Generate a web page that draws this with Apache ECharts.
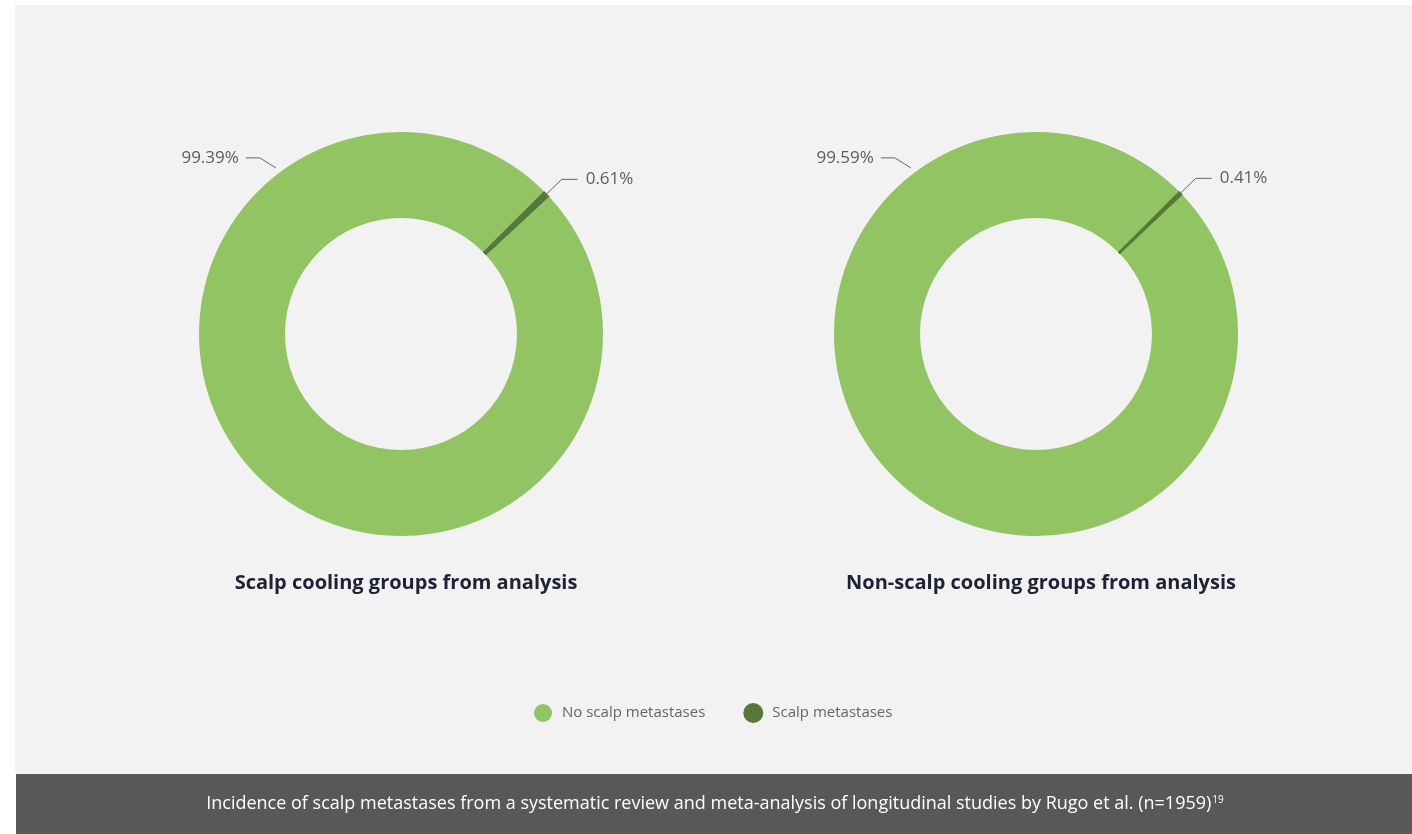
<!DOCTYPE html>
<html>
<head>
<meta charset="utf-8">
<script src="https://cdn.jsdelivr.net/npm/echarts@6/dist/echarts.min.js"></script>
<style>
  html, body { margin: 0; padding: 0; background: #ffffff; }
  #chart { width: 1412px; height: 834px; }
</style>
</head>
<body>
<div id="chart"></div>
<script>
// Outcome categories shown in both donuts
const categories = ['No scalp metastases', 'Scalp metastases'];
// Percentages per group (same order as categories)
const scalpCoolingValues = [99.39, 0.61];
const nonScalpCoolingValues = [99.59, 0.41];
// Group titles and caption
const groupTitles = ['Scalp cooling groups from analysis', 'Non-scalp cooling groups from analysis'];
const captionText = 'Incidence of scalp metastases from a systematic review and meta-analysis of longitudinal studies by Rugo et al. (n=1959)';
const captionRef = '19';

const colors = { 'No scalp metastases': '#93c463', 'Scalp metastases': '#56783a' };
const FONT = '"Open Sans", Lato, sans-serif';

const RING = [116, 202];
const centers = [[401, 334], [1036, 334]];
// Where the large-slice callout leaves the ring (degrees from 12 o'clock, clockwise)
const bigLabelAngle = -37;

function pieSeries(values, center, name) {
  // small slice first so it starts right at startAngle
  const data = [
    { name: categories[1], value: values[1],
      itemStyle: { color: colors[categories[1]], borderColor: colors[categories[1]], borderWidth: 1 } },
    { name: categories[0], value: values[0], itemStyle: { color: colors[categories[0]] } }
  ];
  return {
    type: 'pie',
    name: name,
    center: center,
    radius: RING,
    startAngle: 45,
    clockwise: true,
    avoidLabelOverlap: false,
    silent: true,
    data: data,
    label: {
      show: true,
      position: 'outside',
      formatter: '{c}%',
      fontFamily: FONT,
      fontSize: 17,
      color: '#5d5d5d',
      distanceToLabelLine: 8
    },
    labelLine: {
      show: true,
      length: 21,
      length2: 16,
      lineStyle: { color: '#666666', width: 1 }
    },
    labelLayout: function (p) {
      if (p.dataIndex !== 1) return {};
      const a = bigLabelAngle * Math.PI / 180;
      const r = RING[1] + 6;
      const x0 = center[0] + r * Math.sin(a);
      const y0 = center[1] - r * Math.cos(a);
      const x1 = x0 - 16, y1 = y0 - 10;
      const x2 = x1 - 14;
      return {
        x: x2 - 7,
        y: y1,
        align: 'right',
        verticalAlign: 'middle',
        labelLinePoints: [[x0, y0], [x1, y1], [x2, y1]]
      };
    }
  };
}

const chart = echarts.init(document.getElementById('chart'), null, { renderer: 'canvas' });

chart.setOption({
  animation: false,
  graphic: [
    { type: 'rect', z: -10, shape: { x: 15, y: 5, width: 1397, height: 769 }, style: { fill: '#f2f2f2' } },
    { type: 'rect', z: -10, shape: { x: 16, y: 774, width: 1396, height: 60 }, style: { fill: '#585856' } }
  ],
  title: [
    {
      text: groupTitles[0], left: centers[0][0], top: 568, textAlign: 'center',
      textStyle: { fontFamily: FONT, fontSize: 20, fontWeight: 'bold', color: '#1f2235' }
    },
    {
      text: groupTitles[1], left: centers[1][0], top: 568, textAlign: 'center',
      textStyle: { fontFamily: FONT, fontSize: 20, fontWeight: 'bold', color: '#1f2235' }
    },
    {
      text: captionText + '{sup|' + captionRef + '}', left: 710, top: 790, textAlign: 'center',
      textStyle: {
        fontFamily: FONT, fontSize: 18, fontWeight: 'normal', color: '#ffffff',
        rich: { sup: { fontFamily: FONT, fontSize: 10, color: '#ffffff', verticalAlign: 'top', padding: [0, 0, 8, 1] } }
      }
    }
  ],
  legend: {
    data: categories,
    left: 534,
    top: 703,
    padding: 0,
    icon: 'circle',
    itemWidth: 18,
    itemHeight: 18,
    itemGap: 38,
    selectedMode: false,
    textStyle: { fontFamily: FONT, fontSize: 15, color: '#666666', padding: [0, 0, 0, 5] }
  },
  series: [
    pieSeries(scalpCoolingValues, centers[0], groupTitles[0]),
    pieSeries(nonScalpCoolingValues, centers[1], groupTitles[1])
  ]
});
</script>
</body>
</html>
